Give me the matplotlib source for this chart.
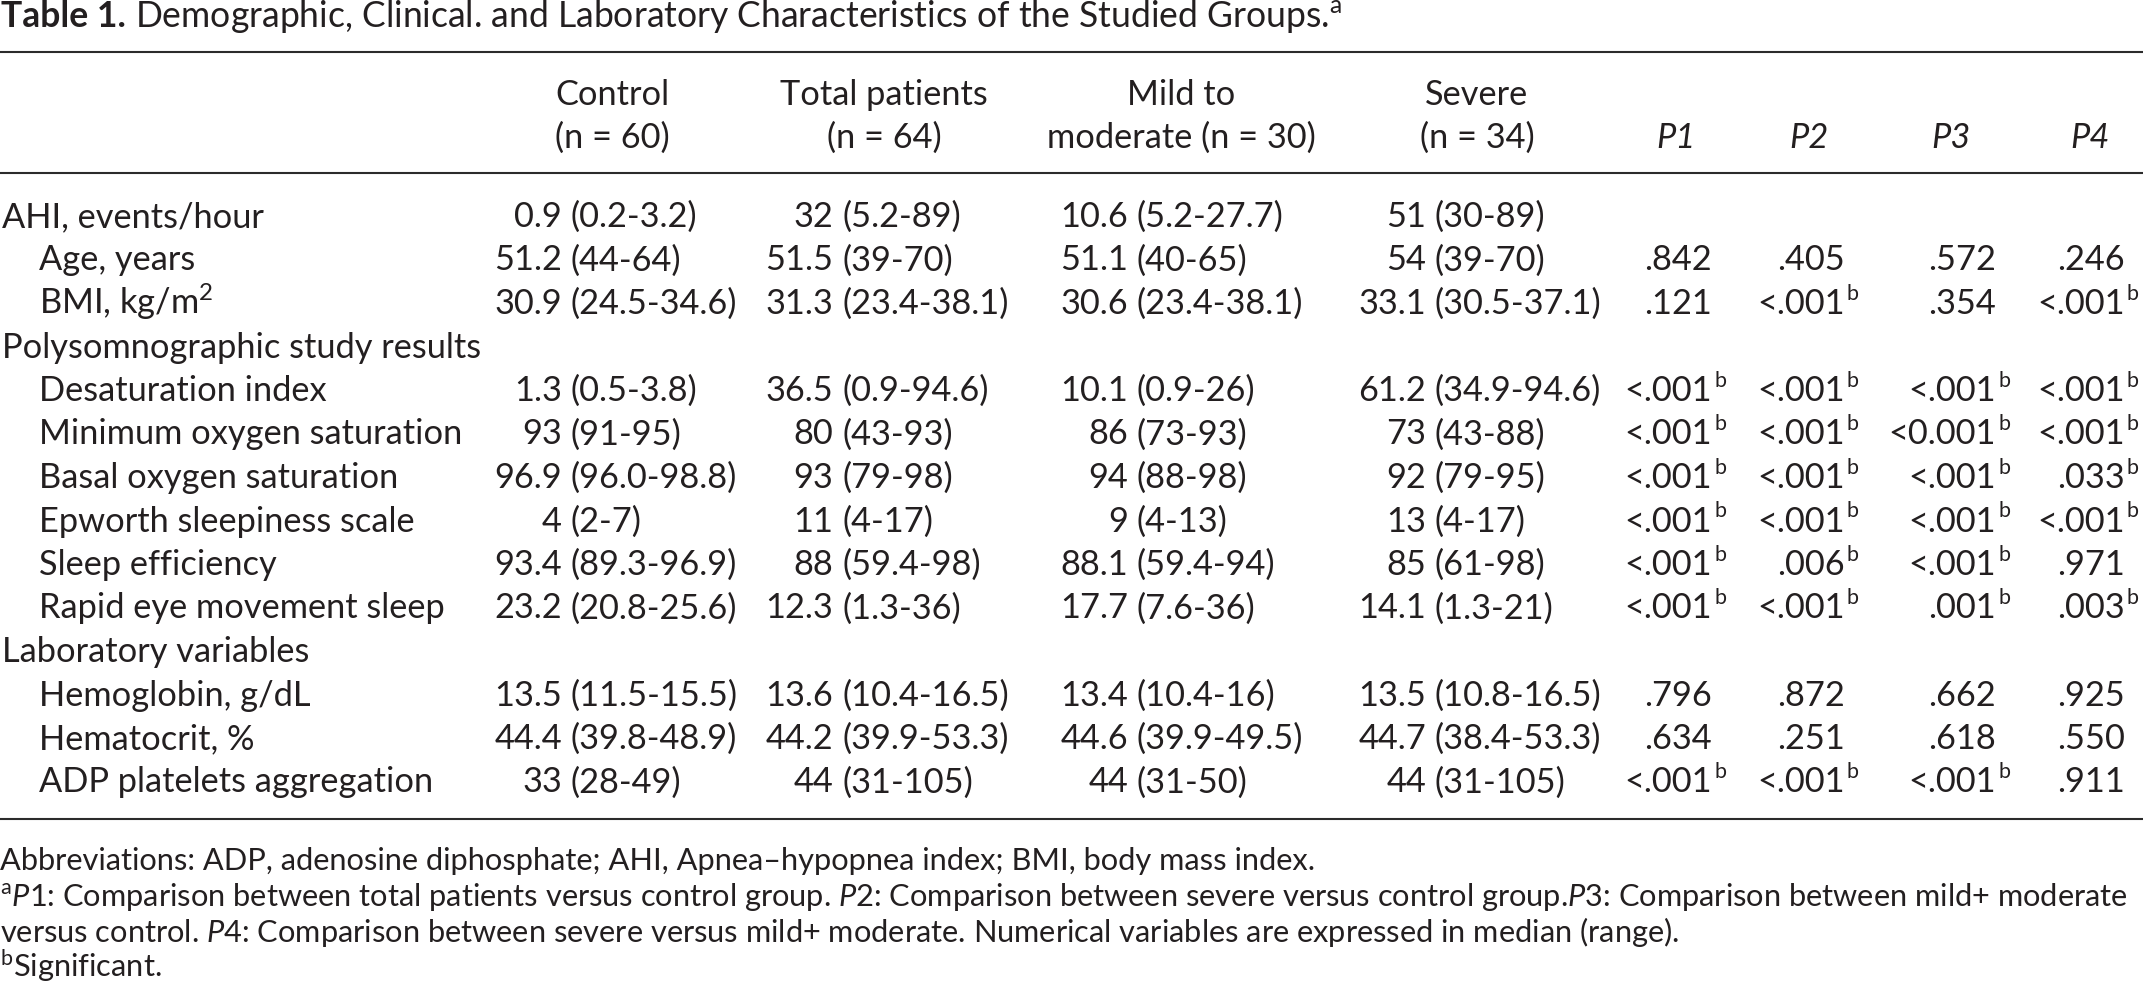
import matplotlib
matplotlib.use('Agg')
import matplotlib.pyplot as plt
from matplotlib.font_manager import FontProperties

FONT = 'Lato'
plt.rcParams['font.family'] = [FONT, 'DejaVu Sans']
plt.rcParams['mathtext.fontset'] = 'custom'
plt.rcParams['mathtext.rm'] = FONT
plt.rcParams['mathtext.it'] = FONT + ':italic'
plt.rcParams['mathtext.bf'] = FONT + ':bold'
plt.rcParams['mathtext.default'] = 'regular'

INK = '#231f20'

# ---------------- data ----------------
title_bold = "Table 1."
title_rest = (r"Demographic, Clinical. and Laboratory "
              r"Characteristics of the Studied Groups.$^{\mathregular{a}}$")

group_line1 = ["Control", "Total patients", "Mild to", "Severe"]
group_line2 = ["(n = 60)", "(n = 64)", "moderate (n = 30)", "(n = 34)"]
p_headers = ["P1", "P2", "P3", "P4"]

row_labels = ["AHI, events/hour", "Age, years", r"BMI, kg/m$^{\mathregular{2}}$",
              "Polysomnographic study results", "Desaturation index",
              "Minimum oxygen saturation", "Basal oxygen saturation",
              "Epworth sleepiness scale", "Sleep efficiency",
              "Rapid eye movement sleep", "Laboratory variables",
              "Hemoglobin, g/dL", "Hematocrit, %", "ADP platelets aggregation"]
row_indent = [0, 1, 1, 0, 1, 1, 1, 1, 1, 1, 0, 1, 1, 1]

control = ["0.9 (0.2-3.2)", "51.2 (44-64)", "30.9 (24.5-34.6)", "",
           "1.3 (0.5-3.8)", "93 (91-95)", "96.9 (96.0-98.8)", "4 (2-7)",
           "93.4 (89.3-96.9)", "23.2 (20.8-25.6)", "",
           "13.5 (11.5-15.5)", "44.4 (39.8-48.9)", "33 (28-49)"]
total = ["32 (5.2-89)", "51.5 (39-70)", "31.3 (23.4-38.1)", "",
         "36.5 (0.9-94.6)", "80 (43-93)", "93 (79-98)", "11 (4-17)",
         "88 (59.4-98)", "12.3 (1.3-36)", "",
         "13.6 (10.4-16.5)", "44.2 (39.9-53.3)", "44 (31-105)"]
mild = ["10.6 (5.2-27.7)", "51.1 (40-65)", "30.6 (23.4-38.1)", "",
        "10.1 (0.9-26)", "86 (73-93)", "94 (88-98)", "9 (4-13)",
        "88.1 (59.4-94)", "17.7 (7.6-36)", "",
        "13.4 (10.4-16)", "44.6 (39.9-49.5)", "44 (31-50)"]
severe = ["51 (30-89)", "54 (39-70)", "33.1 (30.5-37.1)", "",
          "61.2 (34.9-94.6)", "73 (43-88)", "92 (79-95)", "13 (4-17)",
          "85 (61-98)", "14.1 (1.3-21)", "",
          "13.5 (10.8-16.5)", "44.7 (38.4-53.3)", "44 (31-105)"]

p1 = ["", ".842", ".121", "", "<.001b", "<.001b", "<.001b", "<.001b",
      "<.001b", "<.001b", "", ".796", ".634", "<.001b"]
p2 = ["", ".405", "<.001b", "", "<.001b", "<.001b", "<.001b", "<.001b",
      ".006b", "<.001b", "", ".872", ".251", "<.001b"]
p3 = ["", ".572", ".354", "", "<.001b", "<0.001b", "<.001b", "<.001b",
      "<.001b", ".001b", "", ".662", ".618", "<.001b"]
p4 = ["", ".246", "<.001b", "", "<.001b", "<.001b", ".033b", "<.001b",
      ".971", ".003b", "", ".925", ".550", ".911"]

footnotes = [
    "Abbreviations: ADP, adenosine diphosphate; AHI, Apnea\u2013hypopnea index; BMI, body mass index.",
    r"$^{\mathregular{a}}$$\mathit{P}$1: Comparison between total patients versus control group. "
    r"$\mathit{P}$2: Comparison between severe versus control group.$\mathit{P}$3: Comparison between mild+ moderate",
    r"versus control. $\mathit{P}$4: Comparison between severe versus mild+ moderate. "
    r"Numerical variables are expressed in median (range).",
    r"$^{\mathregular{b}}$Significant.",
]

# ---------------- layout ----------------
W, H = 2143, 995
fig = plt.figure(figsize=(W / 100, H / 100), dpi=100)
ax = fig.add_axes([0, 0, 1, 1])
ax.set_xlim(0, W)
ax.set_ylim(H, 0)
ax.axis('off')
renderer = fig.canvas.get_renderer()


def twidth(s, size, weight='normal', style='normal', math=False):
    prop = FontProperties(family=FONT, size=size, weight=weight, style=style)
    w, h, d = renderer.get_text_width_height_descent(s, prop, ismath=math)
    return w


# fit font sizes to the reference text widths (pixels)
body_size = 20 * 480 / twidth("Polysomnographic study results", 20)
title_gap = 9
bw20 = twidth(title_bold, 20, weight='bold')
rw20 = twidth(title_rest.replace(r"$^{\mathregular{a}}$", ""), 20)
title_size = 20 * (1332 - title_gap) / (bw20 + rw20)
foot_size = 20 * 1319 / twidth(footnotes[0], 20)


def put(x, y, s, size, ha='left', **kw):
    ax.text(x, y, s, fontsize=size, ha=ha, va='baseline', color=INK,
            family=FONT, **kw)


# title
put(1, 27, title_bold, title_size, fontweight='bold')
put(1 + bw20 * title_size / 20 + title_gap, 27, title_rest, title_size)

# rules
for yr in (53, 174, 820):
    ax.plot([0, W], [yr, yr], color='#2b2b2b', lw=1.5, solid_capstyle='butt')

# headers
group_centers = [612, 884, 1181, 1477]
for cx, a, b in zip(group_centers, group_line1, group_line2):
    put(cx, 105, a, body_size, ha='center')
    put(cx, 148, b, body_size, ha='center')
p_centers = [1676, 1809, 1951, 2090]
for cx, lab in zip(p_centers, p_headers):
    put(cx, 148, lab, body_size, ha='center', fontstyle='italic')

# body rows
row0, row_step = 227, 43.5
paren_x = [571, 842, 1137, 1435]
p_right = [1712, 1845, 1996, 2125]
gap = 9
sup_size = body_size * 0.62
sup_raise = body_size * 100 / 72 * 0.42

for i, lab in enumerate(row_labels):
    y = row0 + row_step * i
    put(2 + 37 * row_indent[i], y, lab, body_size)
    for col, px in zip((control, total, mild, severe), paren_x):
        v = col[i]
        if not v:
            continue
        left, right = v.split(" (")
        put(px - gap, y, left, body_size, ha='right')
        put(px, y, "(" + right, body_size, ha='left')
    for col, rx in zip((p1, p2, p3, p4), p_right):
        v = col[i]
        if not v:
            continue
        sig = v.endswith("b")
        num = v[:-1] if sig else v
        put(rx, y, num, body_size, ha='right')
        if sig:
            put(rx + 2, y - sup_raise, "b", sup_size, ha='left')

# footnotes
foot_base = [870, 906, 942, 977]
for yb, s in zip(foot_base, footnotes):
    put(0, yb, s, foot_size)

fig.savefig("out.png", dpi=100)
